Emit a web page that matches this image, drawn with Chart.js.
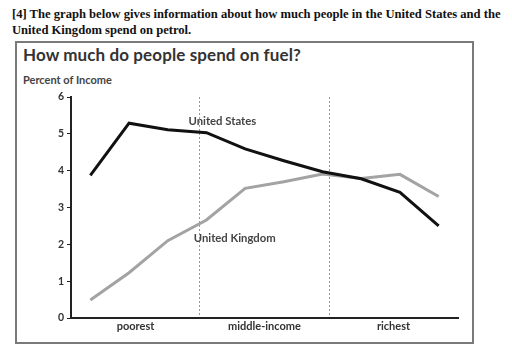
<!DOCTYPE html>
<html>
<head>
<meta charset="utf-8">
<script src="https://cdn.jsdelivr.net/npm/chart.js@4.4.0/dist/chart.umd.min.js"></script>
<style>
    html, body { margin: 0; padding: 0; background: #fff; }
    #wrap { position: relative; width: 512px; height: 350px; overflow: hidden; }
    #task {
        position: absolute; left: 12px; top: 6px; white-space: nowrap;
        font: bold 12.6px "Liberation Serif", serif; line-height: 16px; color: #111;
    }
    #box {
        position: absolute; left: 15px; top: 41px; width: 455px; height: 299px;
        border: 2px solid #7a7a7a;
    }
    #title {
        position: absolute; left: 23px; top: 44px;
        font: bold 17px Lato, "Noto Sans", sans-serif; color: #333; letter-spacing: 0.1px;
    }
    #ylab {
        position: absolute; left: 23px; top: 73px;
        font: bold 11px Lato, "Noto Sans", sans-serif; color: #444;
    }
    canvas { position: absolute; left: 0; top: 0; }
</style>
</head>
<body>
<div id="wrap">
    <div id="task">[4] The graph below gives information about how much people in the United States and the<br>United Kingdom spend on petrol.</div>
    <div id="box"></div>
    <div id="title">How much do people spend on fuel?</div>
    <div id="ylab">Percent of Income</div>
    <canvas id="chart" width="512" height="350"></canvas>
</div>
<script>
"use strict";

// positions along the income scale (0-10)
const xPositions = [0.5, 1.5, 2.5, 3.5, 4.5, 5.5, 6.5, 7.5, 8.5, 9.5];
const usValues = [3.87, 5.29, 5.11, 5.03, 4.59, 4.27, 3.97, 3.78, 3.41, 2.5];
const ukValues = [0.49, 1.23, 2.1, 2.66, 3.52, 3.7, 3.91, 3.79, 3.9, 3.3];
const groupNames = ['poorest', 'middle-income', 'richest'];
const groupBounds = [0, 3.333, 6.667, 10];
const seriesNames = ['United States', 'United Kingdom'];
const seriesLabelPos = [[3.91, 5.33], [4.23, 2.17]];

// label ticks in middle of groups, divider ticks at the group borders
const xTicks = [];
for (let i = 0; i < groupNames.length; i++) {
    xTicks.push({value: (groupBounds[i] + groupBounds[i + 1]) / 2, label: groupNames[i]});
    if (i < groupNames.length - 1) {
        xTicks.push({value: groupBounds[i + 1], label: ''});
    }
}

const toPoints = vals => vals.map((v, i) => ({x: xPositions[i], y: v}));

// text labels on the lines
const seriesLabels = {
    id: 'seriesLabels',
    afterDatasetsDraw(chart) {
        const ctx = chart.ctx;
        const xs = chart.scales.x;
        const ys = chart.scales.y;
        ctx.save();
        ctx.font = 'bold 11.3px Lato, "Noto Sans", sans-serif';
        ctx.fillStyle = '#444';
        ctx.textAlign = 'center';
        ctx.textBaseline = 'middle';
        seriesNames.forEach((name, i) => {
            ctx.fillText(name, xs.getPixelForValue(seriesLabelPos[i][0]), ys.getPixelForValue(seriesLabelPos[i][1]));
        });
        ctx.restore();
    }
};

new Chart(document.getElementById('chart'), {
    type: 'line',
    data: {
        datasets: [
            {
                label: seriesNames[0],
                data: toPoints(usValues),
                borderColor: '#111',
                borderWidth: 3,
                pointRadius: 0,
                tension: 0
            },
            {
                label: seriesNames[1],
                data: toPoints(ukValues),
                borderColor: '#a3a3a3',
                borderWidth: 3,
                pointRadius: 0,
                tension: 0
            }
        ]
    },
    options: {
        responsive: false,
        animation: false,
        layout: {padding: {left: 41, top: 97, right: 54, bottom: 0}},
        plugins: {
            legend: {display: false},
            tooltip: {enabled: false}
        },
        scales: {
            x: {
                type: 'linear',
                min: 0,
                max: 10,
                afterFit: s => { s.height = 32; },
                afterBuildTicks: s => { s.ticks = xTicks.map(t => ({value: t.value})); },
                ticks: {
                    autoSkip: false,
                    maxRotation: 0,
                    padding: 2,
                    color: '#333',
                    font: {family: 'Lato, "Noto Sans", sans-serif', size: 11, weight: 'bold'},
                    callback: (v, i) => xTicks[i].label
                },
                grid: {
                    color: ctx => (ctx.tick && xTicks[ctx.index] && xTicks[ctx.index].label === '') ? '#999' : 'rgba(0,0,0,0)',
                    lineWidth: 1,
                    drawTicks: false,
                    tickLength: 4
                },
                border: {color: '#222', width: 2, dash: [2, 2]}
            },
            y: {
                min: 0,
                max: 6,
                afterFit: s => { s.width = 30; },
                ticks: {
                    stepSize: 1,
                    padding: 3,
                    color: '#333',
                    font: {family: 'Lato, "Noto Sans", sans-serif', size: 10.5, weight: 'bold'}
                },
                grid: {drawOnChartArea: false, drawTicks: true, tickLength: 4, color: '#222'},
                border: {color: '#222', width: 2}
            }
        }
    },
    plugins: [seriesLabels]
});
</script>
</body>
</html>
